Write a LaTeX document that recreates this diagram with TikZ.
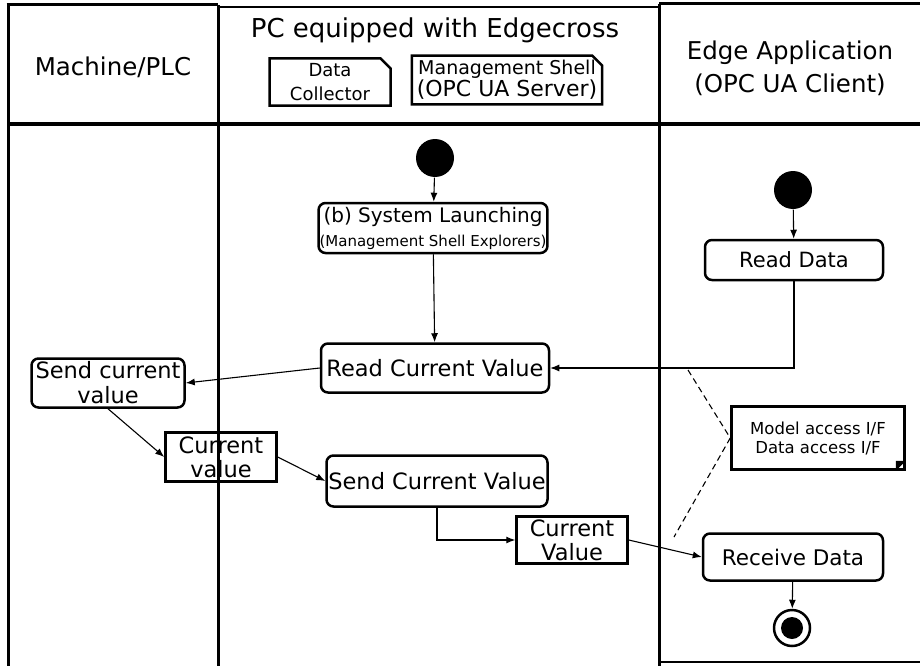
\documentclass[tikz,border=0pt]{standalone}
\usepackage{fontspec}
\setmainfont{DejaVu Sans}
\usetikzlibrary{arrows.meta,positioning,calc,shapes.misc}

\begin{document}
\begin{tikzpicture}[x=1pt,y=-1pt,>={Latex[length=9pt,width=7pt]},line width=1.1pt,
  act/.style={draw,line width=2.5pt,rounded corners=7pt,align=center,inner sep=1pt,font=\fontsize{22.5}{24}\selectfont},
  obj/.style={draw,line width=2.5pt,align=center,inner sep=1pt,font=\fontsize{22.5}{24}\selectfont},
  part/.style={draw,line width=2.5pt,chamfered rectangle,chamfered rectangle corners=north east,chamfered rectangle sep=5pt,align=center,inner sep=0pt},
  startdot/.style={circle,fill,minimum size=38pt,inner sep=0pt},
  lane/.style={line width=3pt},
  hdr/.style={align=center,font=\fontsize{24.5}{33}\selectfont}]
\useasboundingbox (0,0) rectangle (920,666);
% swimlanes
\draw[lane] (8,5) -- (8,666);
\draw[lane] (218,5) -- (218,666);
\draw[lane] (659,4) -- (659,666);
\draw[lane] (6.5,5) -- (218,5);
\draw[line width=2pt] (218,7) -- (659,7);
\draw[lane] (659,4) -- (920,4);
\draw[lane] (8,124) -- (920,124);
\draw (659,662) -- (920,662);
\node[hdr] (plc) at (113,67) {Machine/PLC};
\node[hdr,font=\fontsize{26}{33}\selectfont] (pc) at (435,30) {PC equipped with Edgecross};
\node[hdr] (app) at (790,68) {Edge Application\\(OPC UA Client)};
\node[part,minimum width=121pt,minimum height=40pt,font=\fontsize{18}{24}\selectfont] (coll) at (330,82) {Data\\Collector};
\node[part,minimum width=175pt,minimum height=37pt] (shell) at (507,80) {\fontsize{19}{24}\selectfont Management Shell\\\fontsize{22}{24}\selectfont(OPC UA Server)};
% PC lane
\node[startdot] (s1) at (435,158) {};
\node[act,minimum width=227pt,minimum height=50pt] (sys) at (433,228) {\fontsize{20}{26}\selectfont(b) System Launching\\\fontsize{15}{20}\selectfont(Management Shell Explorers)};
\node[act,minimum width=228pt,minimum height=49pt] (rcv) at (435,368) {Read Current Value};
\node[act,minimum width=221pt,minimum height=51pt] (scv) at (437,481) {Send Current Value};
\node[obj,minimum width=111pt,minimum height=47pt] (cv2) at (572,540) {Current\\Value};
% machine lane
\node[act,minimum width=153pt,minimum height=49pt,font=\fontsize{22.5}{25}\selectfont] (send) at (108,383) {Send current\\value};
\node[obj,minimum width=111pt,minimum height=49pt] (cv1) at (221,457) {Current\\value};
% application lane
\node[startdot] (s2) at (793,190) {};
\node[act,minimum width=178pt,minimum height=40pt,font=\fontsize{21}{24}\selectfont] (rd) at (794,260) {Read Data};
\node[act,minimum width=180pt,minimum height=47pt,font=\fontsize{21.5}{24}\selectfont] (recv) at (793,557) {Receive Data};
\node[circle,draw,line width=2.5pt,minimum size=36pt,inner sep=0pt,
  path picture={\fill (path picture bounding box.center) circle (11pt);}] (fin) at (792,628) {};
\node[draw,line width=2.5pt,minimum width=173pt,minimum height=63pt,align=center,font=\fontsize{16.5}{19}\selectfont] (note) at (818,438) {Model access I/F\\Data access I/F};
\fill ([xshift=-10pt]note.south east) -- ([yshift=10pt]note.south east) -- ([shift={(-10pt,10pt)}]note.south east) -- cycle;
\coordinate (d1) at (688,370);
\coordinate (d2) at (674,537);
% flows
\draw[->] (s1) -- (sys);
\draw[->] (sys) -- (rcv);
\draw[->] (s2) -- (rd);
\draw[->] (rd.south) |- (rcv.east);
\draw[->] (rcv.west) -- (send.east);
\draw[->] (send.south) -- (cv1.west);
\draw[->] (cv1.east) -- (scv.west);
\draw[->] (scv.south) |- (cv2.west);
\draw[->] (cv2.east) -- (recv.west);
\draw[->] (recv) -- (fin);
\draw[dash pattern=on 6pt off 4pt] (d1) -- (note.west) -- (d2);
\end{tikzpicture}
\end{document}
